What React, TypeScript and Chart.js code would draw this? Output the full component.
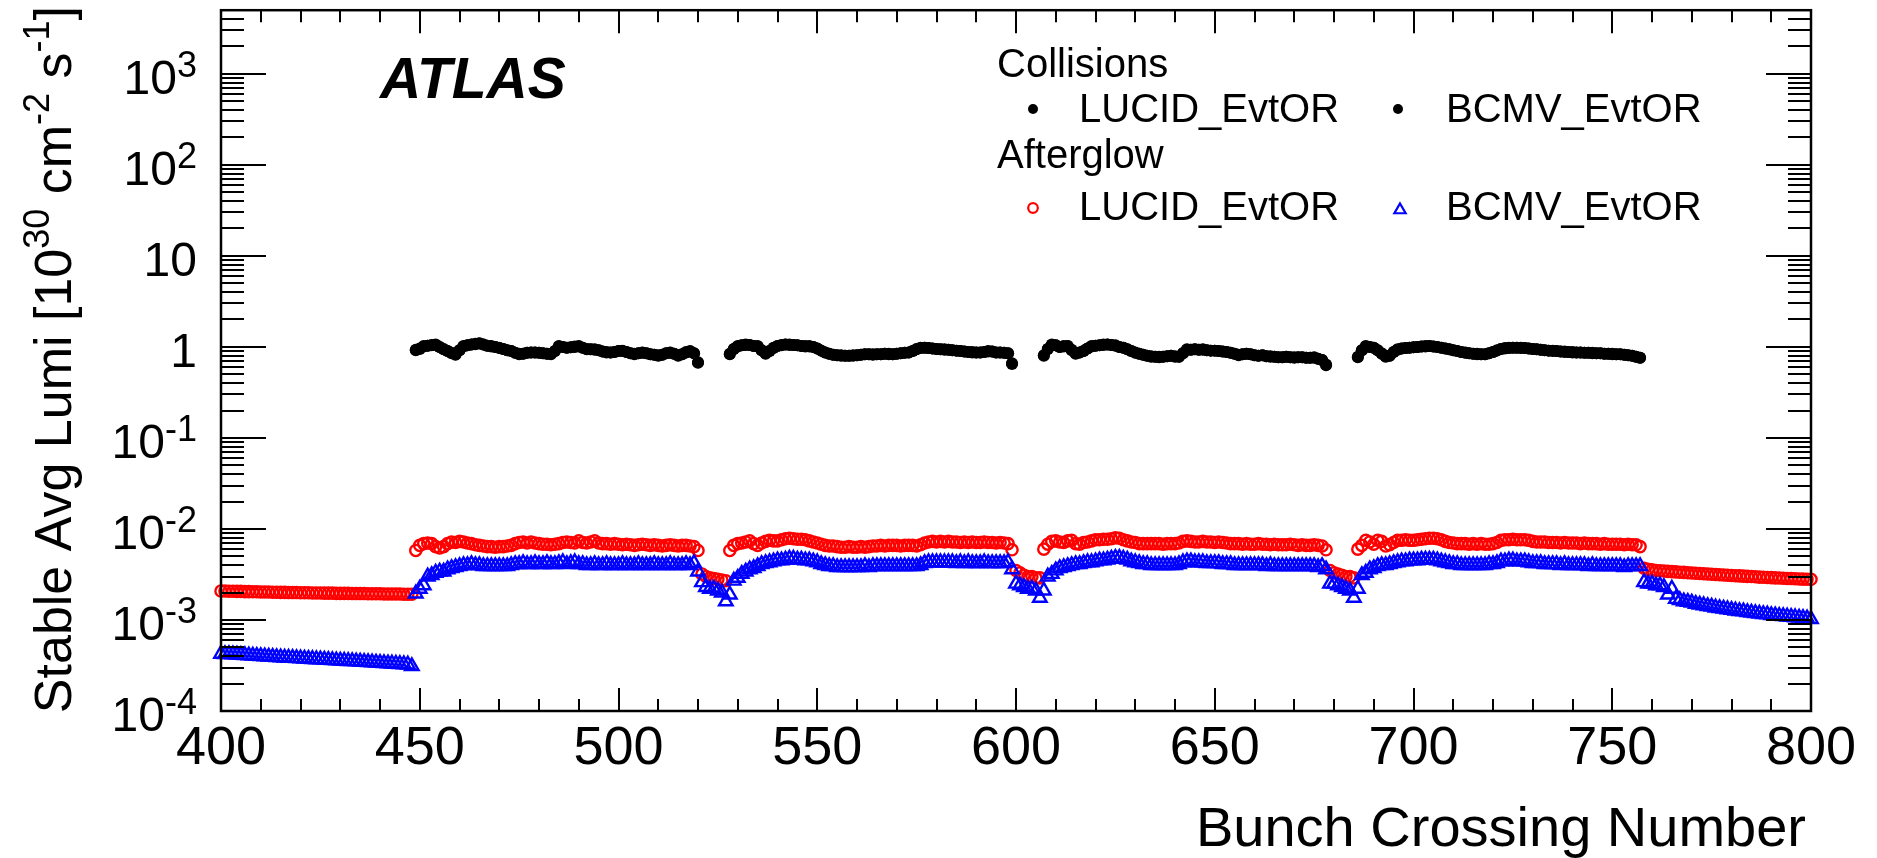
import React, { useEffect, useRef } from "react";
import { Chart, registerables } from "chart.js";

Chart.register(...registerables);

// ---------------- data ----------------
// Afterglow values are given in units of 1e-3 (10^30 cm^-2 s^-1).
const AFTERGLOW_UNIT = 1e-3;

const X_MIN = 400;
const X_MAX = 800;
const Y_MIN = 1e-4;
const Y_MAX = 5000;

const xTickValues = [400, 450, 500, 550, 600, 650, 700, 750, 800];
const xTickLabels = ["400", "450", "500", "550", "600", "650", "700", "750", "800"];
const yTickValues = [1e-4, 1e-3, 1e-2, 1e-1, 1, 10, 100, 1000];
const yTickBase = ["10", "10", "10", "10", "1", "10", "10", "10"];
const yTickExp = ["-4", "-3", "-2", "-1", "", "", "2", "3"];

const trainStarts = [449, 528, 607, 686];
const gapStarts = [521, 600, 679];
const preTrainStart = 400;
const postTrainStart = 758;

// ---- Collisions (LUCID_EvtOR), filled bunches only ----
const lucidCollTrain1 = [
  0.92, 0.95, 1.02, 1.03, 1.04, 1.06, 1.0, 0.94, 0.9, 0.85, 0.82, 0.92,
  1.02, 1.04, 1.06, 1.08, 1.1, 1.06, 1.03, 1.02, 1.0, 0.98, 0.95, 0.92,
  0.9, 0.86, 0.83, 0.84, 0.86, 0.87, 0.87, 0.86, 0.85, 0.84, 0.83, 0.9,
  1.02, 1.0, 0.98, 0.99, 1.01, 1.02, 0.98, 0.94, 0.94, 0.94, 0.92, 0.89,
  0.87, 0.87, 0.88, 0.9, 0.91, 0.88, 0.85, 0.83, 0.85, 0.87, 0.85, 0.83,
  0.82, 0.8, 0.82, 0.85, 0.87, 0.84, 0.8, 0.83, 0.88, 0.9, 0.85, 0.67,
];
const lucidCollTrain2 = [
  0.83, 0.95, 1.02, 1.04, 1.06, 1.05, 1.02, 1.02, 0.92, 0.84, 0.9, 0.98,
  1.02, 1.05, 1.06, 1.06, 1.05, 1.04, 1.02, 1.02, 1.02, 1.0, 0.96, 0.91,
  0.87, 0.84, 0.82, 0.81, 0.8, 0.8, 0.8, 0.8, 0.81, 0.82, 0.83, 0.83,
  0.82, 0.83, 0.83, 0.84, 0.83, 0.83, 0.84, 0.85, 0.86, 0.87, 0.9, 0.95,
  0.98, 0.98, 0.97, 0.96, 0.95, 0.94, 0.94, 0.93, 0.92, 0.91, 0.9, 0.89,
  0.88, 0.87, 0.87, 0.87, 0.88, 0.9, 0.89, 0.87, 0.87, 0.86, 0.85, 0.65,
];
const lucidCollTrain3 = [
  0.8, 0.95, 1.06, 1.04, 1.0, 1.02, 1.02, 0.92, 0.84, 0.87, 0.9, 0.96,
  1.02, 1.03, 1.04, 1.06, 1.06, 1.05, 1.04, 1.0, 0.98, 0.94, 0.9, 0.86,
  0.84, 0.82, 0.8, 0.78, 0.78, 0.77, 0.78, 0.79, 0.8, 0.78, 0.78, 0.85,
  0.94, 0.93, 0.94, 0.93, 0.94, 0.92, 0.91, 0.91, 0.9, 0.89, 0.88, 0.86,
  0.84, 0.81, 0.83, 0.84, 0.83, 0.81, 0.8, 0.81, 0.79, 0.78, 0.78, 0.77,
  0.77, 0.78, 0.77, 0.76, 0.77, 0.77, 0.76, 0.76, 0.77, 0.74, 0.72, 0.63,
];
const lucidCollTrain4 = [
  0.77, 0.92, 1.02, 1.0, 0.98, 0.92, 0.84, 0.78, 0.8, 0.88, 0.94, 0.96,
  0.97, 0.98, 0.99, 1.0, 1.01, 1.02, 1.02, 1.01, 1.0, 0.98, 0.96, 0.94,
  0.92, 0.9, 0.88, 0.86, 0.85, 0.84, 0.83, 0.83, 0.83, 0.85, 0.88, 0.92,
  0.95, 0.97, 0.98, 0.98, 0.98, 0.98, 0.97, 0.96, 0.95, 0.94, 0.93, 0.92,
  0.91, 0.9, 0.9, 0.89, 0.88, 0.88, 0.87, 0.87, 0.87, 0.86, 0.86, 0.86,
  0.85, 0.85, 0.84, 0.84, 0.83, 0.83, 0.83, 0.82, 0.81, 0.8, 0.78, 0.76,
];

// ---- Collisions (BCMV_EvtOR): coincide with LUCID in the picture ----
const bcmvCollTrain1 = [
  0.93, 0.96, 1.01, 1.03, 1.05, 1.05, 1.0, 0.95, 0.9, 0.86, 0.83, 0.92,
  1.01, 1.04, 1.06, 1.07, 1.09, 1.06, 1.03, 1.01, 1.0, 0.97, 0.95, 0.92,
  0.9, 0.86, 0.84, 0.84, 0.86, 0.87, 0.87, 0.86, 0.85, 0.84, 0.84, 0.9,
  1.01, 1.0, 0.98, 0.99, 1.0, 1.01, 0.98, 0.95, 0.94, 0.93, 0.92, 0.89,
  0.88, 0.87, 0.88, 0.9, 0.9, 0.88, 0.85, 0.84, 0.85, 0.86, 0.85, 0.83,
  0.82, 0.81, 0.82, 0.85, 0.86, 0.84, 0.81, 0.83, 0.87, 0.89, 0.85, 0.68,
];
const bcmvCollTrain2 = [
  0.84, 0.95, 1.01, 1.04, 1.05, 1.05, 1.02, 1.01, 0.92, 0.85, 0.9, 0.97,
  1.02, 1.04, 1.06, 1.05, 1.05, 1.04, 1.02, 1.01, 1.01, 1.0, 0.96, 0.91,
  0.87, 0.84, 0.82, 0.81, 0.81, 0.8, 0.8, 0.81, 0.81, 0.82, 0.83, 0.83,
  0.83, 0.83, 0.83, 0.84, 0.84, 0.83, 0.84, 0.85, 0.86, 0.87, 0.9, 0.94,
  0.97, 0.98, 0.97, 0.96, 0.95, 0.94, 0.93, 0.93, 0.92, 0.91, 0.9, 0.89,
  0.88, 0.88, 0.87, 0.87, 0.88, 0.89, 0.89, 0.87, 0.87, 0.86, 0.85, 0.66,
];
const bcmvCollTrain3 = [
  0.81, 0.95, 1.05, 1.04, 1.0, 1.01, 1.02, 0.93, 0.85, 0.87, 0.9, 0.96,
  1.01, 1.03, 1.04, 1.05, 1.06, 1.05, 1.03, 1.0, 0.98, 0.94, 0.9, 0.87,
  0.84, 0.82, 0.8, 0.79, 0.78, 0.78, 0.78, 0.79, 0.8, 0.79, 0.78, 0.85,
  0.93, 0.93, 0.94, 0.93, 0.93, 0.92, 0.91, 0.91, 0.9, 0.89, 0.88, 0.86,
  0.84, 0.82, 0.83, 0.84, 0.83, 0.81, 0.8, 0.81, 0.79, 0.79, 0.78, 0.77,
  0.77, 0.78, 0.77, 0.77, 0.77, 0.77, 0.76, 0.76, 0.76, 0.74, 0.72, 0.64,
];
const bcmvCollTrain4 = [
  0.78, 0.92, 1.01, 1.0, 0.98, 0.92, 0.85, 0.79, 0.8, 0.88, 0.93, 0.96,
  0.97, 0.98, 0.99, 1.0, 1.01, 1.01, 1.02, 1.01, 1.0, 0.98, 0.96, 0.94,
  0.92, 0.9, 0.88, 0.87, 0.85, 0.84, 0.84, 0.83, 0.83, 0.85, 0.88, 0.91,
  0.95, 0.96, 0.97, 0.98, 0.98, 0.97, 0.97, 0.96, 0.95, 0.94, 0.93, 0.92,
  0.91, 0.91, 0.9, 0.89, 0.89, 0.88, 0.88, 0.87, 0.87, 0.86, 0.86, 0.85,
  0.85, 0.85, 0.84, 0.84, 0.84, 0.83, 0.83, 0.82, 0.81, 0.8, 0.78, 0.76,
];

// ---- Afterglow LUCID_EvtOR (x 1e-3), every bunch crossing ----
const lucidAfterPre = [
  2.08, 2.08, 2.07, 2.07, 2.06, 2.06, 2.05, 2.05, 2.04, 2.04,
  2.03, 2.03, 2.03, 2.02, 2.02, 2.01, 2.01, 2.0, 2.0, 2.0,
  1.99, 1.99, 1.99, 1.98, 1.98, 1.98, 1.97, 1.97, 1.97, 1.96,
  1.96, 1.96, 1.96, 1.95, 1.95, 1.95, 1.95, 1.94, 1.94, 1.94,
  1.94, 1.93, 1.93, 1.93, 1.93, 1.93, 1.92, 1.92, 1.92,
];
const lucidAfterTrain1 = [
  5.8, 6.6, 6.9, 7.0, 6.9, 6.4, 6.2, 6.4, 6.9, 7.2, 7.1, 7.3,
  7.2, 7.0, 6.9, 6.7, 6.6, 6.5, 6.4, 6.4, 6.3, 6.4, 6.4, 6.5,
  6.6, 6.9, 7.1, 7.2, 7.0, 7.2, 7.0, 6.9, 6.8, 6.8, 6.7, 6.8,
  6.9, 7.1, 7.2, 7.1, 7.0, 7.4, 7.1, 7.0, 7.2, 7.4, 7.0, 6.9,
  6.9, 6.8, 6.9, 6.8, 6.7, 6.8, 6.7, 6.6, 6.7, 6.8, 6.7, 6.6,
  6.7, 6.6, 6.5, 6.6, 6.7, 6.6, 6.5, 6.6, 6.6, 6.5, 6.4, 5.8,
];
const lucidAfterGap1 = [3.2, 3.0, 2.9, 2.85, 2.8, 2.75, 2.7];
const lucidAfterTrain2 = [
  5.8, 6.6, 6.9, 7.0, 7.2, 7.4, 6.9, 6.6, 7.0, 7.3, 7.5, 7.4,
  7.4, 7.6, 7.8, 7.9, 7.8, 7.7, 7.7, 7.6, 7.4, 7.2, 7.0, 6.8,
  6.6, 6.5, 6.5, 6.4, 6.3, 6.3, 6.4, 6.3, 6.3, 6.4, 6.3, 6.4,
  6.5, 6.5, 6.6, 6.5, 6.6, 6.6, 6.6, 6.5, 6.6, 6.6, 6.6, 6.5,
  6.7, 7.0, 7.2, 7.3, 7.2, 7.3, 7.2, 7.3, 7.2, 7.2, 7.1, 7.2,
  7.1, 7.2, 7.1, 7.1, 7.2, 7.1, 7.1, 7.0, 7.1, 7.0, 6.9, 5.9,
];
const lucidAfterGap2 = [3.5, 3.3, 3.1, 3.0, 3.0, 2.9, 2.9];
const lucidAfterTrain3 = [
  6.0, 6.8, 7.3, 7.4, 7.2, 7.1, 7.4, 7.5, 6.9, 6.8, 7.1, 7.2,
  7.4, 7.6, 7.6, 7.7, 7.7, 7.8, 8.0, 7.9, 7.6, 7.4, 7.2, 7.1,
  6.9, 6.9, 6.9, 6.9, 6.9, 6.9, 6.8, 6.9, 6.9, 6.9, 7.0, 7.3,
  7.4, 7.3, 7.2, 7.2, 7.3, 7.2, 7.2, 7.1, 7.2, 7.1, 7.0, 6.9,
  6.9, 6.9, 6.8, 6.9, 6.8, 6.8, 6.9, 6.8, 6.8, 6.7, 6.8, 6.7,
  6.7, 6.7, 6.8, 6.7, 6.6, 6.7, 6.6, 6.6, 6.7, 6.6, 6.5, 5.9,
];
const lucidAfterGap3 = [3.5, 3.3, 3.2, 3.1, 3.0, 3.0, 2.9];
const lucidAfterTrain4 = [
  6.0, 6.6, 7.5, 7.2, 6.8, 7.5, 7.3, 6.5, 6.7, 7.1, 7.5, 7.5,
  7.6, 7.5, 7.5, 7.6, 7.7, 7.8, 7.9, 7.9, 7.8, 7.6, 7.3, 7.1,
  7.0, 6.9, 6.9, 6.9, 6.8, 6.9, 6.8, 6.9, 6.8, 6.8, 6.9, 7.1,
  7.5, 7.6, 7.6, 7.7, 7.6, 7.6, 7.6, 7.5, 7.3, 7.2, 7.2, 7.2,
  7.1, 7.1, 7.1, 7.0, 7.1, 7.0, 7.0, 7.0, 6.9, 7.0, 6.9, 6.9,
  6.9, 6.8, 6.9, 6.8, 6.8, 6.8, 6.8, 6.7, 6.8, 6.7, 6.7, 6.4,
];
const lucidAfterPost = [
  3.7, 3.6, 3.55, 3.5, 3.48, 3.45, 3.42, 3.4, 3.38, 3.35,
  3.33, 3.3, 3.28, 3.26, 3.24, 3.22, 3.2, 3.18, 3.16, 3.14,
  3.12, 3.1, 3.08, 3.06, 3.05, 3.03, 3.01, 3.0, 2.98, 2.96,
  2.95, 2.93, 2.92, 2.9, 2.89, 2.87, 2.86, 2.85, 2.84, 2.82,
  2.81, 2.8, 2.8,
];

// ---- Afterglow BCMV_EvtOR (x 1e-3), every bunch crossing ----
const bcmvAfterPre = [
  0.425, 0.422, 0.42, 0.418, 0.415, 0.413, 0.41, 0.408, 0.405, 0.403,
  0.4, 0.398, 0.395, 0.393, 0.39, 0.388, 0.386, 0.384, 0.382, 0.38,
  0.378, 0.376, 0.374, 0.372, 0.37, 0.368, 0.366, 0.364, 0.362, 0.36,
  0.358, 0.356, 0.354, 0.352, 0.35, 0.348, 0.346, 0.344, 0.342, 0.34,
  0.338, 0.336, 0.334, 0.332, 0.33, 0.328, 0.326, 0.324, 0.31,
];
const bcmvAfterTrain1 = [
  1.95, 2.2, 2.4, 3.0, 3.1, 3.3, 3.4, 3.4, 3.6, 3.7, 3.8, 3.9,
  4.0, 4.0, 4.1, 4.0, 4.0, 3.9, 3.9, 3.9, 3.9, 3.9, 3.9, 3.9,
  4.0, 4.1, 4.1, 4.2, 4.1, 4.1, 4.2, 4.1, 4.1, 4.2, 4.1, 4.1,
  4.2, 4.3, 4.1, 4.2, 4.3, 4.1, 4.1, 4.0, 4.0, 4.1, 4.0, 4.0,
  4.1, 4.0, 4.0, 4.0, 4.1, 4.0, 4.0, 4.0, 4.1, 4.0, 4.0, 4.0,
  4.1, 4.0, 4.0, 4.0, 4.1, 4.0, 4.0, 4.0, 4.1, 4.0, 4.2, 3.4,
];
const bcmvAfterGap1 = [2.6, 2.3, 2.2, 2.2, 2.1, 2.0, 1.6];
const bcmvAfterTrain2 = [
  1.9, 2.7, 2.9, 3.2, 3.4, 3.6, 3.7, 3.9, 4.1, 4.2, 4.3, 4.4,
  4.5, 4.5, 4.6, 4.7, 4.7, 4.6, 4.6, 4.5, 4.5, 4.4, 4.3, 4.1,
  4.0, 3.9, 3.9, 3.8, 3.8, 3.8, 3.8, 3.8, 3.8, 3.8, 3.9, 3.8,
  3.9, 3.9, 3.9, 3.9, 3.9, 3.9, 3.9, 3.9, 3.9, 3.9, 3.9, 3.9,
  4.0, 4.2, 4.3, 4.3, 4.3, 4.3, 4.3, 4.3, 4.3, 4.2, 4.3, 4.2,
  4.3, 4.2, 4.2, 4.2, 4.3, 4.2, 4.2, 4.2, 4.2, 4.2, 4.3, 3.6,
];
const bcmvAfterGap2 = [2.5, 2.4, 2.3, 2.2, 2.2, 2.1, 1.75];
const bcmvAfterTrain3 = [
  2.1, 3.0, 3.2, 3.5, 3.7, 3.8, 3.9, 4.0, 4.1, 4.1, 4.2, 4.3,
  4.3, 4.4, 4.5, 4.5, 4.6, 4.7, 4.8, 4.8, 4.7, 4.6, 4.4, 4.3,
  4.2, 4.1, 4.1, 4.0, 4.0, 4.0, 4.0, 4.0, 4.0, 4.0, 4.1, 4.3,
  4.4, 4.4, 4.3, 4.3, 4.3, 4.2, 4.2, 4.2, 4.2, 4.1, 4.1, 4.1,
  4.0, 4.0, 4.0, 4.0, 4.0, 4.0, 4.0, 4.0, 3.9, 4.0, 3.9, 3.9,
  3.9, 3.9, 3.9, 3.9, 3.9, 3.9, 3.9, 3.9, 3.9, 3.8, 3.9, 3.6,
];
const bcmvAfterGap3 = [2.5, 2.5, 2.4, 2.3, 2.2, 2.1, 1.75];
const bcmvAfterTrain4 = [
  2.2, 3.1, 3.3, 3.6, 3.7, 3.9, 4.0, 4.0, 4.1, 4.2, 4.3, 4.4,
  4.4, 4.5, 4.5, 4.5, 4.6, 4.6, 4.6, 4.6, 4.5, 4.4, 4.3, 4.2,
  4.1, 4.1, 4.0, 4.0, 4.0, 4.0, 4.0, 4.0, 4.0, 4.1, 4.1, 4.2,
  4.4, 4.4, 4.5, 4.5, 4.4, 4.4, 4.4, 4.3, 4.2, 4.2, 4.2, 4.1,
  4.1, 4.1, 4.1, 4.0, 4.1, 4.0, 4.0, 4.0, 4.0, 4.0, 3.9, 4.0,
  3.9, 3.9, 3.9, 3.9, 3.9, 3.9, 3.9, 3.8, 3.9, 3.9, 3.9, 3.9,
];
const bcmvAfterPost = [
  2.6, 2.5, 2.5, 2.4, 2.4, 2.3, 1.9, 2.2, 1.7, 1.65,
  1.6, 1.58, 1.55, 1.5, 1.47, 1.45, 1.42, 1.4, 1.37, 1.35,
  1.33, 1.31, 1.29, 1.27, 1.25, 1.24, 1.22, 1.2, 1.19, 1.17,
  1.16, 1.15, 1.13, 1.12, 1.11, 1.1, 1.09, 1.08, 1.07, 1.06,
  1.05, 1.04, 1.02,
];

const legendHeaders = ["Collisions", "Afterglow"];
const legendLabels = ["LUCID_EvtOR", "BCMV_EvtOR"];

// ---------------- helpers ----------------
type Pt = { x: number; y: number };
function buildSeries(segments: [number, number[]][], unit: number): Pt[] {
  const pts: Pt[] = [];
  for (const [start, vals] of segments) {
    vals.forEach((v, i) => pts.push({ x: start + i, y: v * unit }));
  }
  return pts;
}

const FONT = "'Liberation Sans', Arial, Helvetica, sans-serif";

type Part = { t: string; size: number; rise?: number; style?: string };
function drawRich(ctx: CanvasRenderingContext2D, parts: Part[], x: number, y: number, align: "left" | "right") {
  let total = 0;
  const widths = parts.map((p) => {
    ctx.font = `${p.style ? p.style + " " : ""}${p.size}px ${FONT}`;
    const w = ctx.measureText(p.t).width;
    total += w;
    return w;
  });
  let cx = align === "right" ? x - total : x;
  ctx.textAlign = "left";
  parts.forEach((p, i) => {
    ctx.font = `${p.style ? p.style + " " : ""}${p.size}px ${FONT}`;
    ctx.fillText(p.t, cx, y - (p.rise || 0));
    cx += widths[i];
  });
}

function drawCircle(ctx: CanvasRenderingContext2D, x: number, y: number, r: number, fill: string | null, stroke: string | null, lw: number) {
  ctx.beginPath();
  ctx.arc(x, y, r, 0, Math.PI * 2);
  if (fill) { ctx.fillStyle = fill; ctx.fill(); }
  if (stroke) { ctx.strokeStyle = stroke; ctx.lineWidth = lw; ctx.stroke(); }
}
function drawTriangle(ctx: CanvasRenderingContext2D, x: number, y: number, r: number, stroke: string, lw: number) {
  ctx.beginPath();
  for (let k = 0; k < 3; k++) {
    const a = (k * 2 * Math.PI) / 3;
    const px = x + Math.sin(a) * r;
    const py = y - Math.cos(a) * r;
    if (k === 0) ctx.moveTo(px, py); else ctx.lineTo(px, py);
  }
  ctx.closePath();
  ctx.strokeStyle = stroke;
  ctx.lineWidth = lw;
  ctx.stroke();
}

const RED = "#ff0000";
const BLUE = "#0000ff";
const BLACK_R = 6;
const RED_R = 5.6;
const TRI_R = 7.8;
const OPEN_LW = 2.4;

const rootStylePlugin = {
  id: "rootStyle",
  beforeDraw(chart: any) {
    const ctx = chart.ctx;
    ctx.save();
    ctx.fillStyle = "#ffffff";
    ctx.fillRect(0, 0, chart.width, chart.height);
    ctx.restore();
  },
  afterDraw(chart: any) {
    const ctx: CanvasRenderingContext2D = chart.ctx;
    const ca = chart.chartArea;
    const xs = chart.scales.x;
    const ys = chart.scales.y;
    ctx.save();

    // ticks (ROOT style, inside the frame on all four sides)
    ctx.strokeStyle = "#000";
    ctx.lineWidth = 2;
    ctx.beginPath();
    for (let v = X_MIN; v <= X_MAX; v += 10) {
      const px = Math.round(xs.getPixelForValue(v));
      const len = (v - X_MIN) % 50 === 0 ? 23 : 12;
      ctx.moveTo(px, ca.bottom);
      ctx.lineTo(px, ca.bottom - len);
      ctx.moveTo(px, ca.top);
      ctx.lineTo(px, ca.top + len);
    }
    for (let e = -4; e <= 3; e++) {
      for (let k = 1; k <= 9; k++) {
        const v = k * Math.pow(10, e);
        if (v >= Y_MAX) break;
        const py = Math.round(ys.getPixelForValue(v));
        const len = k === 1 ? 45 : 23;
        ctx.moveTo(ca.left, py);
        ctx.lineTo(ca.left + len, py);
        ctx.moveTo(ca.right, py);
        ctx.lineTo(ca.right - len, py);
      }
    }
    ctx.stroke();

    // frame
    ctx.lineWidth = 2.5;
    ctx.strokeRect(ca.left, ca.top, ca.right - ca.left, ca.bottom - ca.top);

    ctx.fillStyle = "#000";
    ctx.textBaseline = "alphabetic";

    // x tick labels
    ctx.font = `54px ${FONT}`;
    ctx.textAlign = "center";
    xTickValues.forEach((v, i) => ctx.fillText(xTickLabels[i], xs.getPixelForValue(v), 764));

    // y tick labels
    yTickValues.forEach((v, i) => {
      const py = ys.getPixelForValue(v) + 20;
      const parts: Part[] = [{ t: yTickBase[i], size: 48 }];
      if (yTickExp[i]) parts.push({ t: yTickExp[i], size: 36, rise: 17 });
      drawRich(ctx, parts, 197, py, "right");
    });

    // x title
    ctx.font = `56px ${FONT}`;
    ctx.textAlign = "right";
    ctx.fillText("Bunch Crossing Number", 1806, 846);

    // y title
    ctx.save();
    ctx.translate(71, 6);
    ctx.rotate(-Math.PI / 2);
    drawRich(
      ctx,
      [
        { t: "Stable Avg Lumi [10", size: 52 },
        { t: "30", size: 36, rise: 22 },
        { t: " cm", size: 52 },
        { t: "-2", size: 36, rise: 22 },
        { t: " s", size: 52 },
        { t: "-1", size: 36, rise: 22 },
        { t: "]", size: 52 },
      ],
      0,
      0,
      "right"
    );
    ctx.restore();

    // ATLAS label
    ctx.font = `bold italic 57px ${FONT}`;
    ctx.textAlign = "left";
    ctx.fillText("ATLAS", 380, 98);

    // legend
    ctx.font = `40px ${FONT}`;
    ctx.textAlign = "left";
    ctx.fillStyle = "#000";
    ctx.fillText(legendHeaders[0], 997, 77);
    ctx.fillText(legendLabels[0], 1079, 122);
    ctx.fillText(legendLabels[1], 1446, 122);
    ctx.fillText(legendHeaders[1], 997, 168);
    ctx.fillText(legendLabels[0], 1079, 220);
    ctx.fillText(legendLabels[1], 1446, 220);
    drawCircle(ctx, 1033, 109, 5, "#000", null, 0);
    drawCircle(ctx, 1398, 109, 5, "#000", null, 0);
    drawCircle(ctx, 1033, 208, 4.8, null, RED, 2.2);
    drawTriangle(ctx, 1400, 210, 6.5, BLUE, 2.2);

    ctx.restore();
  },
};

export default function App() {
  const ref = useRef<HTMLCanvasElement>(null);
  useEffect(() => {
    if (!ref.current) return;
    const lucidColl = buildSeries(
      [
        [trainStarts[0], lucidCollTrain1],
        [trainStarts[1], lucidCollTrain2],
        [trainStarts[2], lucidCollTrain3],
        [trainStarts[3], lucidCollTrain4],
      ],
      1
    );
    const bcmvColl = buildSeries(
      [
        [trainStarts[0], bcmvCollTrain1],
        [trainStarts[1], bcmvCollTrain2],
        [trainStarts[2], bcmvCollTrain3],
        [trainStarts[3], bcmvCollTrain4],
      ],
      1
    );
    const lucidAfter = buildSeries(
      [
        [preTrainStart, lucidAfterPre],
        [trainStarts[0], lucidAfterTrain1],
        [gapStarts[0], lucidAfterGap1],
        [trainStarts[1], lucidAfterTrain2],
        [gapStarts[1], lucidAfterGap2],
        [trainStarts[2], lucidAfterTrain3],
        [gapStarts[2], lucidAfterGap3],
        [trainStarts[3], lucidAfterTrain4],
        [postTrainStart, lucidAfterPost],
      ],
      AFTERGLOW_UNIT
    );
    const bcmvAfter = buildSeries(
      [
        [preTrainStart, bcmvAfterPre],
        [trainStarts[0], bcmvAfterTrain1],
        [gapStarts[0], bcmvAfterGap1],
        [trainStarts[1], bcmvAfterTrain2],
        [gapStarts[1], bcmvAfterGap2],
        [trainStarts[2], bcmvAfterTrain3],
        [gapStarts[2], bcmvAfterGap3],
        [trainStarts[3], bcmvAfterTrain4],
        [postTrainStart, bcmvAfterPost],
      ],
      AFTERGLOW_UNIT
    );

    const chart = new Chart(ref.current, {
      type: "scatter",
      data: {
        datasets: [
          {
            label: "Collisions LUCID_EvtOR",
            data: lucidColl,
            pointStyle: "circle",
            pointRadius: BLACK_R,
            backgroundColor: "#000",
            borderColor: "#000",
            borderWidth: 0,
            clip: false,
          } as any,
          {
            label: "Collisions BCMV_EvtOR",
            data: bcmvColl,
            pointStyle: "circle",
            pointRadius: BLACK_R,
            backgroundColor: "#000",
            borderColor: "#000",
            borderWidth: 0,
            clip: false,
          } as any,
          {
            label: "Afterglow BCMV_EvtOR",
            data: bcmvAfter,
            pointStyle: "triangle",
            pointRadius: TRI_R,
            backgroundColor: "rgba(0,0,0,0)",
            borderColor: BLUE,
            borderWidth: OPEN_LW,
            clip: false,
          } as any,
          {
            label: "Afterglow LUCID_EvtOR",
            data: lucidAfter,
            pointStyle: "circle",
            pointRadius: RED_R,
            backgroundColor: "rgba(0,0,0,0)",
            borderColor: RED,
            borderWidth: OPEN_LW,
            clip: false,
          } as any,
        ],
      },
      options: {
        responsive: false,
        animation: false,
        devicePixelRatio: 1,
        events: [],
        layout: { padding: { left: 221, right: 66, top: 9, bottom: 147 } },
        plugins: {
          legend: { display: false },
          tooltip: { enabled: false },
          title: { display: false },
        },
        scales: {
          x: { type: "linear", min: X_MIN, max: X_MAX, display: false },
          y: { type: "logarithmic", min: Y_MIN, max: Y_MAX, display: false },
        },
      },
      plugins: [rootStylePlugin],
    });
    return () => chart.destroy();
  }, []);

  return (
    <div style={{ position: "fixed", left: 0, top: 0, width: 1877, height: 858, background: "#fff" }}>
      <canvas ref={ref} width={1877} height={858} style={{ display: "block", width: 1877, height: 858 }} />
    </div>
  );
}
